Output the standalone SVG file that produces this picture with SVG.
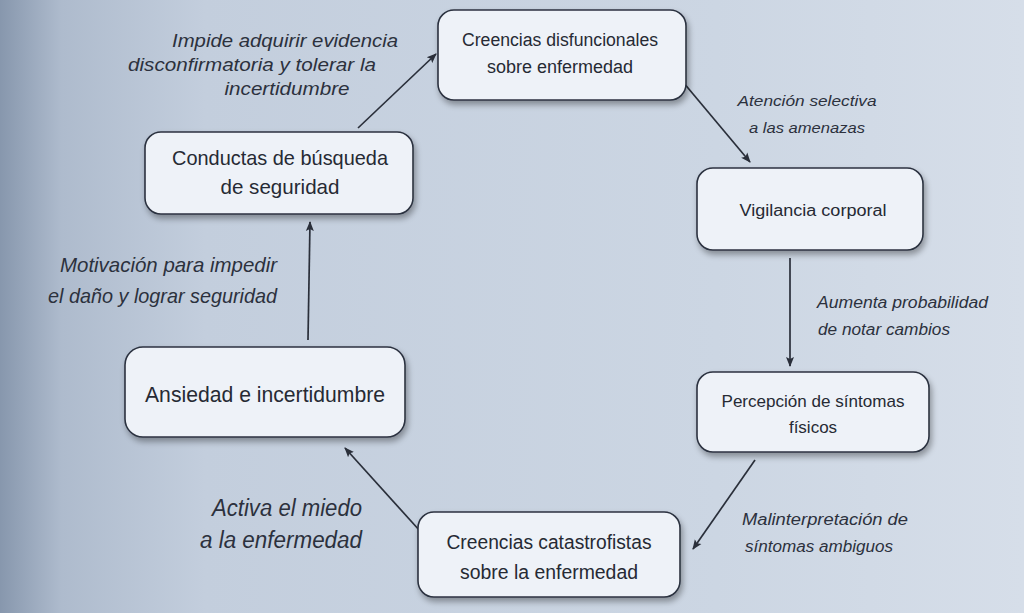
<svg xmlns="http://www.w3.org/2000/svg" width="1024" height="613" viewBox="0 0 1024 613">
<defs>
<linearGradient id="bg" x1="0" y1="0" x2="1" y2="0">
<stop offset="0" stop-color="#8797ad"/>
<stop offset="0.06" stop-color="#aebbcd"/>
<stop offset="0.2" stop-color="#c3cedd"/>
<stop offset="0.7" stop-color="#ccd6e3"/>
<stop offset="1" stop-color="#d6dee9"/>
</linearGradient>
<filter id="sh" x="-10%" y="-10%" width="130%" height="140%">
<feGaussianBlur in="SourceAlpha" stdDeviation="3"/>
<feOffset dx="2" dy="4" result="b"/>
<feComponentTransfer><feFuncA type="linear" slope="0.35"/></feComponentTransfer>
<feMerge><feMergeNode/><feMergeNode in="SourceGraphic"/></feMerge>
</filter>
<marker id="ah" viewBox="0 0 10 10" refX="9" refY="5" markerWidth="10" markerHeight="10" markerUnits="userSpaceOnUse" orient="auto">
<path d="M0,1 L10,5 L0,9 L2,5 Z" fill="#2a2f3a"/>
</marker>
</defs>
<style>
.box{fill:#eef2f8;stroke:#2c3240;stroke-width:1.6}
.nt{font-family:"Liberation Sans",Arial,sans-serif;fill:#262a34;text-anchor:middle}
.lb{font-family:"Liberation Sans",Arial,sans-serif;font-style:italic;fill:#2c313d}
.cn{stroke:#2a2f3a;stroke-width:1.7;fill:none;marker-end:url(#ah)}
</style>
<rect width="1024" height="613" fill="url(#bg)"/>
<g id="connectors">
<line class="cn" x1="358" y1="128" x2="436" y2="54"/>
<line class="cn" x1="683" y1="82" x2="750" y2="162"/>
<line class="cn" x1="790" y1="258" x2="790" y2="366"/>
<line class="cn" x1="755" y1="460" x2="693" y2="549"/>
<line class="cn" x1="420" y1="531" x2="345" y2="448"/>
<line class="cn" x1="308" y1="340" x2="310" y2="222"/>
</g>
<g id="labels">
<text class="lb" x="285" y="47" text-anchor="middle" font-size="19" textLength="226" lengthAdjust="spacingAndGlyphs">Impide adquirir evidencia</text>
<text class="lb" x="252" y="71" text-anchor="middle" font-size="19" textLength="248" lengthAdjust="spacingAndGlyphs">disconfirmatoria y tolerar la</text>
<text class="lb" x="287" y="95" text-anchor="middle" font-size="19" textLength="125" lengthAdjust="spacingAndGlyphs">incertidumbre</text>
<text class="lb" x="807" y="106" text-anchor="middle" font-size="15" textLength="139" lengthAdjust="spacingAndGlyphs">Atención selectiva</text>
<text class="lb" x="807" y="133" text-anchor="middle" font-size="15" textLength="116" lengthAdjust="spacingAndGlyphs">a las amenazas</text>
<text class="lb" x="817" y="308" font-size="16" textLength="171" lengthAdjust="spacingAndGlyphs">Aumenta probabilidad</text>
<text class="lb" x="818" y="335" font-size="16" textLength="132" lengthAdjust="spacingAndGlyphs">de notar cambios</text>
<text class="lb" x="742" y="525" font-size="16" textLength="166" lengthAdjust="spacingAndGlyphs">Malinterpretación de</text>
<text class="lb" x="745" y="552" font-size="16" textLength="148" lengthAdjust="spacingAndGlyphs">síntomas ambiguos</text>
<text class="lb" x="362" y="516" text-anchor="end" font-size="23" textLength="150" lengthAdjust="spacingAndGlyphs">Activa el miedo</text>
<text class="lb" x="362" y="548" text-anchor="end" font-size="23" textLength="162" lengthAdjust="spacingAndGlyphs">a la enfermedad</text>
<text class="lb" x="277" y="272" text-anchor="end" font-size="21" textLength="217" lengthAdjust="spacingAndGlyphs">Motivación para impedir</text>
<text class="lb" x="277" y="303" text-anchor="end" font-size="21" textLength="229" lengthAdjust="spacingAndGlyphs">el daño y lograr seguridad</text>
</g>
<g id="n1"><rect class="box" x="438" y="10" width="248" height="90" rx="16" filter="url(#sh)"/>
<text class="nt" x="560" y="46" font-size="18" textLength="196" lengthAdjust="spacingAndGlyphs">Creencias disfuncionales</text><text class="nt" x="560" y="73" font-size="18" textLength="146" lengthAdjust="spacingAndGlyphs">sobre enfermedad</text></g>
<g id="n2"><rect class="box" x="697" y="168" width="226" height="82" rx="16" filter="url(#sh)"/>
<text class="nt" x="813" y="216" font-size="16" textLength="147" lengthAdjust="spacingAndGlyphs">Vigilancia corporal</text></g>
<g id="n3"><rect class="box" x="697" y="372" width="232" height="80" rx="16" filter="url(#sh)"/>
<text class="nt" x="813" y="407" font-size="17" textLength="183" lengthAdjust="spacingAndGlyphs">Percepción de síntomas</text><text class="nt" x="813" y="433" font-size="17">físicos</text></g>
<g id="n4"><rect class="box" x="418" y="512" width="262" height="85" rx="16" filter="url(#sh)"/>
<text class="nt" x="549" y="549" font-size="20" textLength="205" lengthAdjust="spacingAndGlyphs">Creencias catastrofistas</text><text class="nt" x="549" y="579" font-size="20" textLength="178" lengthAdjust="spacingAndGlyphs">sobre la enfermedad</text></g>
<g id="n5"><rect class="box" x="125" y="347" width="280" height="90" rx="18" filter="url(#sh)"/>
<text class="nt" x="265" y="402" font-size="22" textLength="240" lengthAdjust="spacingAndGlyphs">Ansiedad e incertidumbre</text></g>
<g id="n6"><rect class="box" x="145" y="132" width="268" height="82" rx="16" filter="url(#sh)"/>
<text class="nt" x="280" y="165" font-size="21" textLength="216" lengthAdjust="spacingAndGlyphs">Conductas de búsqueda</text><text class="nt" x="280" y="194" font-size="21" textLength="119" lengthAdjust="spacingAndGlyphs">de seguridad</text></g>
</svg>
